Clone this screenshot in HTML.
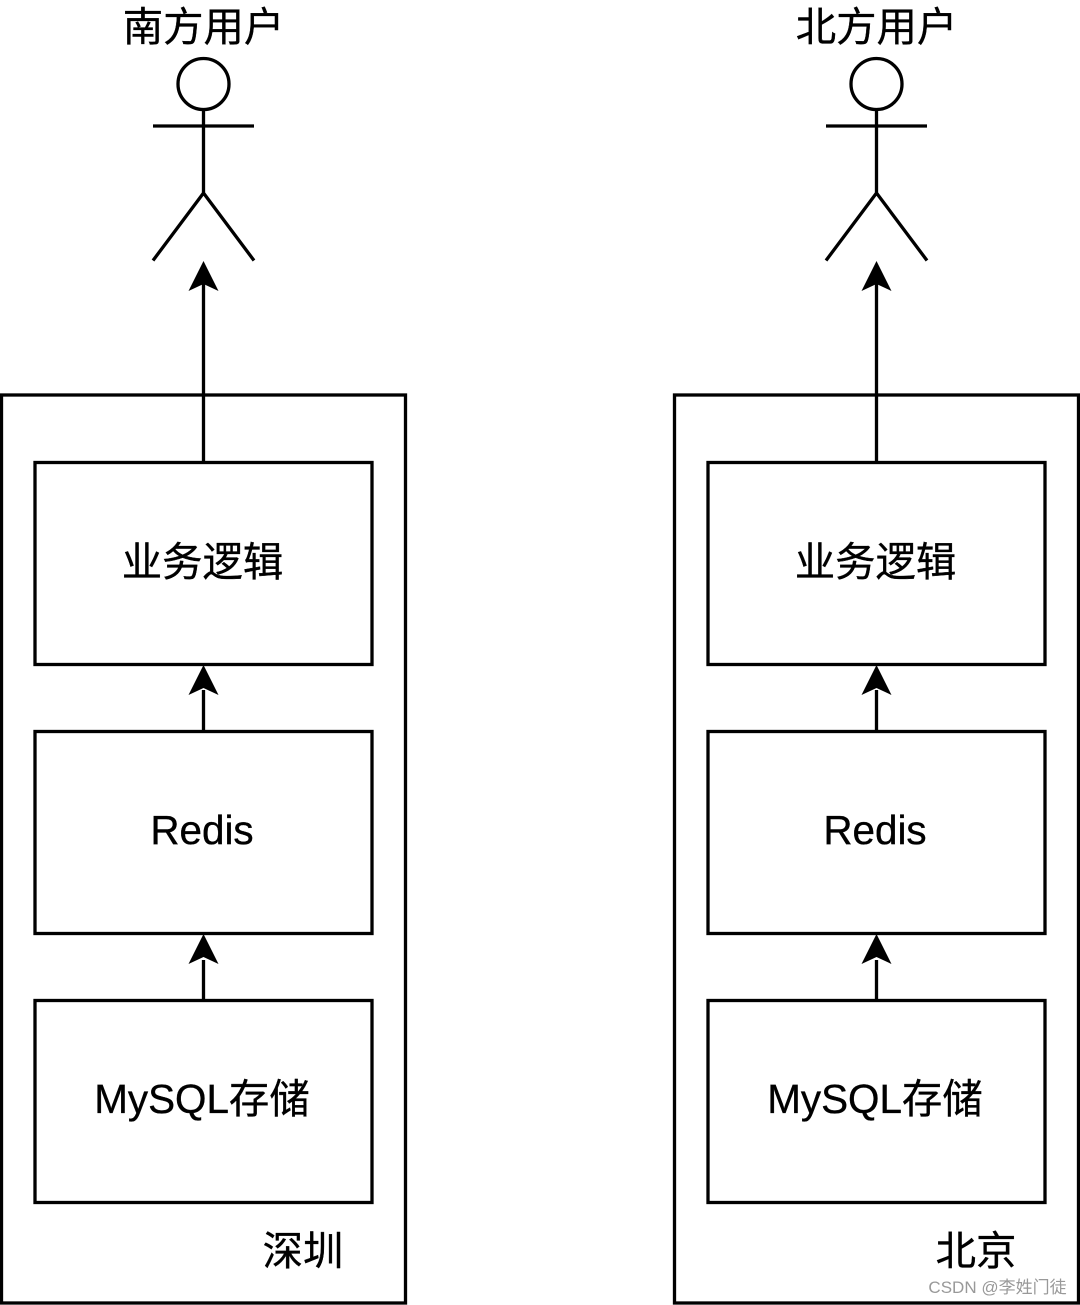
<!DOCTYPE html>
<html>
<head>
<meta charset="utf-8">
<style>
html,body{margin:0;padding:0;background:#fff;width:1080px;height:1305px;overflow:hidden}
svg{display:block}
text{font-family:"Liberation Sans","Noto Sans CJK SC",sans-serif;font-size:40.4px;fill:#000;stroke:#000;stroke-width:.35;text-anchor:middle}
.s{fill:none;stroke:#000;stroke-width:3.3}
</style>
</head>
<body>
<svg width="1080" height="1305" viewBox="0 0 1080 1305" xmlns="http://www.w3.org/2000/svg">
<rect width="1080" height="1305" fill="#fff"/>
<g>
  <rect class="s" x="1.5" y="395" width="404" height="908"/>
  <rect class="s" x="35" y="462.5" width="337" height="202"/>
  <rect class="s" x="35" y="731.5" width="337" height="202"/>
  <rect class="s" x="35" y="1000.5" width="337" height="202"/>
  <circle class="s" cx="203.5" cy="84" r="25.5"/>
  <path class="s" d="M203.5 109.5V193M153 126H254M153 260.5L203.5 193L254 260.5"/>
  <path class="s" d="M203.5 462V284M203.5 731V690M203.5 1000V960"/>
  <path d="M203.5 261L218.5 291L203.5 284L188.5 291Z M203.5 665L218.5 695L203.5 688L188.5 695Z M203.5 934L218.5 964L203.5 957L188.5 964Z"/>
  <text x="203.5" y="41">南方用户</text>
  <text x="202.5" y="576">业务逻辑</text>
  <text x="202" y="844">Redis</text>
  <text x="202" y="1113">MySQL存储</text>
  <text x="303" y="1265">深圳</text>
</g>
<g transform="translate(673 0)">
  <rect class="s" x="1.5" y="395" width="404" height="908"/>
  <rect class="s" x="35" y="462.5" width="337" height="202"/>
  <rect class="s" x="35" y="731.5" width="337" height="202"/>
  <rect class="s" x="35" y="1000.5" width="337" height="202"/>
  <circle class="s" cx="203.5" cy="84" r="25.5"/>
  <path class="s" d="M203.5 109.5V193M153 126H254M153 260.5L203.5 193L254 260.5"/>
  <path class="s" d="M203.5 462V284M203.5 731V690M203.5 1000V960"/>
  <path d="M203.5 261L218.5 291L203.5 284L188.5 291Z M203.5 665L218.5 695L203.5 688L188.5 695Z M203.5 934L218.5 964L203.5 957L188.5 964Z"/>
  <text x="203.5" y="41">北方用户</text>
  <text x="202.5" y="576">业务逻辑</text>
  <text x="202" y="844">Redis</text>
  <text x="202" y="1113">MySQL存储</text>
  <text x="303" y="1265">北京</text>
</g>
<text x="997.5" y="1293" style="font-size:17px;fill:#999;stroke:none">CSDN @李姓门徒</text>
</svg>
</body>
</html>
